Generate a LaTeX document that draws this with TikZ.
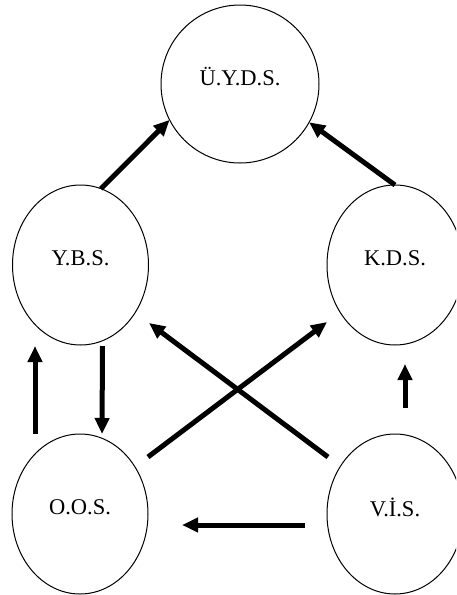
\documentclass[tikz,border=0pt]{standalone}
\usepackage{fontspec}
\setmainfont{Liberation Serif}
\usetikzlibrary{shapes.geometric,arrows.meta,calc}
% label text sits a little above the middle of its unit
\newcommand{\unitlabel}[1]{\raisebox{7pt}[\height][\depth]{#1}}
\begin{document}
\begin{tikzpicture}[x=1pt,y=-1pt,
  unit/.style={draw=black,line width=1pt,ellipse,inner sep=0pt,outer sep=0pt,
    minimum width=136pt,minimum height=160pt,
    font=\fontsize{22.5}{27}\selectfont},
  flow/.style={line width=5pt,-{Triangle[length=16pt,width=14pt]}}]
\clip (0,0) rectangle (456,595);
% the five units
\node[unit,minimum width=158pt,minimum height=158pt] (uyds) at (240,84) {\unitlabel{Ü.Y.D.S.}};
\node[unit] (ybs) at (80.5,265) {\unitlabel{Y.B.S.}};
\node[unit] (kds) at (395,265) {\unitlabel{K.D.S.}};
\node[unit] (oos) at (80,514) {\unitlabel{O.O.S.}};
\node[unit] (vis) at (395,514) {\unitlabel{V.İ.S.}};
% loose ends of the free-standing arrows
\coordinate (oosL) at ($(oos.north)+(-45,0)$);
\coordinate (ybsL) at ($(ybs.south)+(-45.5,1)$);
\coordinate (ybsR) at ($(ybs.south)+(22,1)$);
\coordinate (oosR) at ($(oos.north)+(22,0)$);
\coordinate (oosX) at ($(oos.center)+(68,-57)$);
\coordinate (kdsX) at ($(kds.center)+(-68,57)$);
\coordinate (visX) at ($(vis.center)+(-67,-57)$);
\coordinate (ybsX) at ($(ybs.center)+(68.5,58)$);
\coordinate (visU) at ($(vis.north)+(10,-26)$);
\coordinate (kdsU) at ($(kds.south)+(10,19)$);
\coordinate (visW) at ($(vis.center)+(-90,11)$);
\coordinate (oosE) at ($(oos.center)+(102,11)$);
% arrows
\draw[flow] (ybs.75) -- (uyds.207);
\draw[flow] (kds.90) -- (uyds.331.5);
\draw[flow] (oosL) -- (ybsL);
\draw[flow] (ybsR) -- (oosR);
\draw[flow] (oosX) -- (kdsX);
\draw[flow] (visX) -- (ybsX);
\draw[flow] (visU) -- (kdsU);
\draw[flow] (visW) -- (oosE);
\end{tikzpicture}
\end{document}
